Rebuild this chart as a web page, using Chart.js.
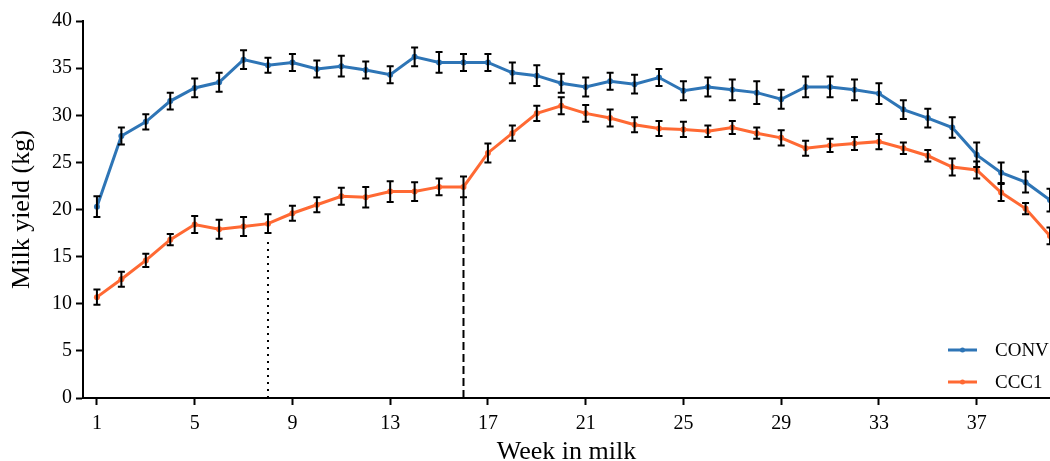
<!DOCTYPE html>
<html>
<head>
<meta charset="utf-8">
<script src="https://cdn.jsdelivr.net/npm/chart.js@4.4.1/dist/chart.umd.min.js"></script>
<style>
    html, body { margin: 0; padding: 0; background: #fff; }
    #wrap { width: 1050px; height: 461px; }
</style>
</head>
<body>
<div id="wrap"><canvas id="milkChart"></canvas></div>
<script>
const weeks = [1,2,3,4,5,6,7,8,9,10,11,12,13,14,15,16,17,18,19,20,21,22,23,24,25,26,27,28,29,30,31,32,33,34,35,36,37,38,39,40];
const conv = [20.3,27.8,29.3,31.5,32.9,33.5,35.9,35.3,35.6,34.9,35.2,34.8,34.3,36.2,35.6,35.6,35.6,34.5,34.2,33.4,33.0,33.6,33.3,34.0,32.6,33.0,32.7,32.4,31.7,33.0,33.0,32.7,32.3,30.6,29.7,28.7,25.8,23.9,22.9,21.0];
const convErr = [1.1,0.9,0.8,0.9,1.0,1.0,1.0,0.8,0.9,0.9,1.1,0.9,0.9,1.0,1.1,0.9,0.9,1.1,1.1,1.0,1.0,0.9,1.0,0.9,1.0,1.0,1.1,1.2,1.0,1.1,1.1,1.1,1.1,1.0,1.0,1.1,1.3,1.1,1.1,1.2];
const ccc1 = [10.7,12.6,14.6,16.8,18.4,17.9,18.2,18.5,19.6,20.5,21.4,21.3,21.9,21.9,22.4,22.4,26.0,28.1,30.2,31.0,30.2,29.7,29.0,28.6,28.5,28.3,28.7,28.1,27.6,26.5,26.8,27.0,27.2,26.5,25.7,24.5,24.2,21.8,20.1,17.2];
const ccc1Err = [0.8,0.8,0.7,0.6,0.9,1.0,1.0,1.0,0.8,0.8,0.9,1.1,1.1,1.0,0.9,1.1,1.0,0.8,0.8,0.9,0.9,0.9,0.8,0.8,0.8,0.6,0.7,0.6,0.8,0.8,0.7,0.7,0.8,0.6,0.6,0.9,0.9,0.9,0.6,0.9];
const xTicks = [1,5,9,13,17,21,25,29,33,37];
const yTicks = [0,5,10,15,20,25,30,35,40];
// vertical markers: dotted at week 8, dashed at week 16
const markerWeeks = [8, 16];
const markerTops = [16.8, 21.3];

const BLUE = '#2E75B6';
const ORANGE = '#FF6933';
const FONT = "'Liberation Serif', 'Times New Roman', serif";

const toPoints = (ys) => weeks.map((w, i) => ({ x: w, y: ys[i] }));

// error bars drawn on top of the lines
const errorBars = {
    id: 'errorBars',
    afterDatasetsDraw(chart) {
        const { ctx, scales: { x, y } } = chart;
        ctx.save();
        ctx.strokeStyle = '#000';
        ctx.lineWidth = 2;
        chart.data.datasets.forEach((ds) => {
            if (!ds.errors) return;
            ds.data.forEach((p, i) => {
                const px = x.getPixelForValue(p.x);
                const top = y.getPixelForValue(p.y + ds.errors[i]);
                const bot = y.getPixelForValue(p.y - ds.errors[i]);
                ctx.beginPath();
                ctx.moveTo(px, top); ctx.lineTo(px, bot);
                ctx.moveTo(px - 3.5, top); ctx.lineTo(px + 3.5, top);
                ctx.moveTo(px - 3.5, bot); ctx.lineTo(px + 3.5, bot);
                ctx.stroke();
            });
        });
        ctx.restore();
    }
};

// small legend in the lower right corner
const cornerLegend = {
    id: 'cornerLegend',
    afterDraw(chart) {
        const { ctx } = chart;
        const items = chart.data.datasets.filter(d => d.inLegend);
        ctx.save();
        ctx.font = '19px ' + FONT;
        ctx.textBaseline = 'middle';
        items.forEach((ds, i) => {
            const yy = 350 + i * 32;
            ctx.strokeStyle = ds.borderColor;
            ctx.lineWidth = 3;
            ctx.beginPath();
            ctx.moveTo(948, yy); ctx.lineTo(977, yy);
            ctx.stroke();
            ctx.fillStyle = ds.borderColor;
            ctx.beginPath();
            ctx.arc(962.5, yy, 2.5, 0, Math.PI * 2);
            ctx.fill();
            ctx.fillStyle = '#000';
            ctx.fillText(ds.label, 995, yy + 1);
        });
        ctx.restore();
    }
};

const markerSets = markerWeeks.map((w, i) => ({
    label: 'marker' + i,
    data: [{ x: w, y: 0 }, { x: w, y: markerTops[i] }],
    borderColor: '#000',
    borderWidth: 2,
    borderDash: i === 0 ? [2, 5] : [8, 4],
    pointRadius: 0,
    fill: false
}));

const ctx = document.getElementById('milkChart').getContext('2d');
new Chart(ctx, {
    type: 'line',
    data: {
        datasets: [
            {
                label: 'CONV',
                data: toPoints(conv),
                errors: convErr,
                inLegend: true,
                borderColor: BLUE,
                backgroundColor: BLUE,
                borderWidth: 3,
                pointRadius: 3,
                pointBorderWidth: 0,
                tension: 0
            },
            {
                label: 'CCC1',
                data: toPoints(ccc1),
                errors: ccc1Err,
                inLegend: true,
                borderColor: ORANGE,
                backgroundColor: ORANGE,
                borderWidth: 3,
                pointRadius: 3,
                pointBorderWidth: 0,
                tension: 0
            },
            ...markerSets
        ]
    },
    options: {
        responsive: true,
        maintainAspectRatio: false,
        animation: false,
        layout: { autoPadding: false, padding: { top: 21, right: 0, left: 0, bottom: 0 } },
        plugins: {
            legend: { display: false },
            tooltip: { enabled: false }
        },
        scales: {
            x: {
                type: 'linear',
                min: 0.43,
                max: 40,
                afterBuildTicks: (axis) => { axis.ticks = xTicks.map(v => ({ value: v })); },
                afterFit: (axis) => { axis.height = 63; },
                grid: { drawOnChartArea: false, drawTicks: true, tickLength: 7, color: '#000', tickWidth: 2 },
                border: { display: true, color: '#000', width: 2 },
                ticks: { color: '#000', font: { family: FONT, size: 20 }, padding: 7, maxRotation: 0 },
                title: { display: true, text: 'Week in milk', color: '#000', font: { family: FONT, size: 26, lineHeight: 0.7 }, padding: { top: 0, bottom: 0 } }
            },
            y: {
                min: 0,
                max: 40,
                afterBuildTicks: (axis) => { axis.ticks = yTicks.map(v => ({ value: v })); },
                afterFit: (axis) => { axis.width = 83; },
                grid: { drawOnChartArea: false, drawTicks: true, tickLength: 7, color: '#000', tickWidth: 2 },
                border: { display: true, color: '#000', width: 2 },
                ticks: { color: '#000', font: { family: FONT, size: 20 }, padding: 4 },
                title: { display: true, text: 'Milk yield (kg)', color: '#000', font: { family: FONT, size: 26 }, padding: { top: 7, bottom: 0 } }
            }
        }
    },
    plugins: [errorBars, cornerLegend]
});
</script>
</body>
</html>
